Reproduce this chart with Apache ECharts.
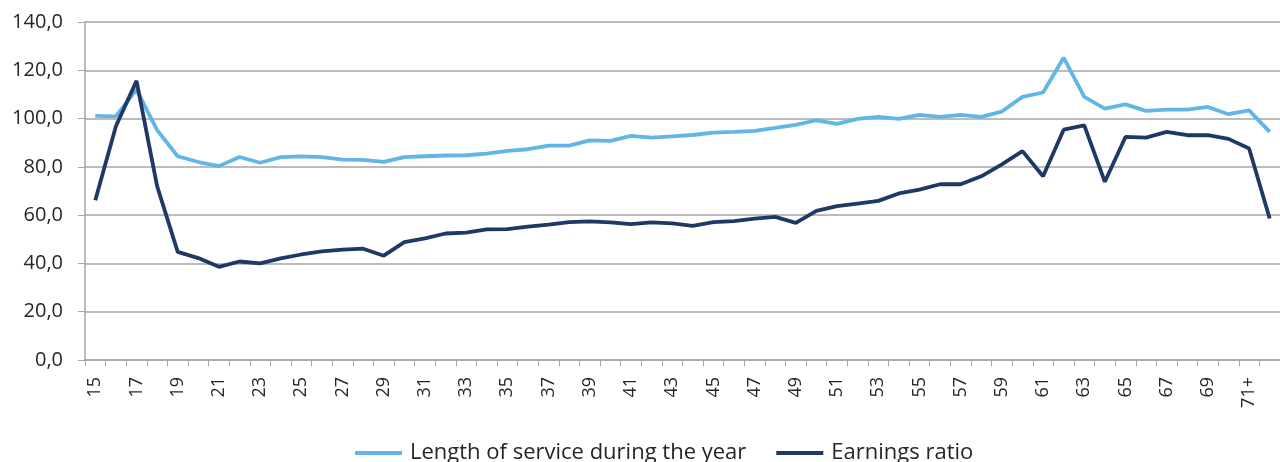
<!DOCTYPE html>
<html>
<head>
<meta charset="utf-8">
<script src="https://cdn.jsdelivr.net/npm/echarts@6/dist/echarts.min.js"></script>
<style>
  html, body { margin: 0; padding: 0; background: #fff; }
  #chart { width: 1280px; height: 462px; }
</style>
</head>
<body>
<div id="chart"></div>
<script>
// ages 15..70, then 71+ and one more unlabeled point at the end
const ages = [];
for (let a = 15; a <= 70; a++) ages.push(String(a));
ages.push('71+');
ages.push('');

const serviceLength = [101.1, 100.9, 112.0, 95.2, 84.4, 82.0, 80.3, 84.1, 81.7, 84.0,
  84.3, 84.0, 83.0, 82.9, 82.1, 84.0, 84.4, 84.7, 84.8, 85.5,
  86.6, 87.3, 88.8, 88.8, 91.0, 90.8, 92.8, 92.1, 92.6, 93.2,
  94.2, 94.5, 94.9, 96.1, 97.4, 99.3, 97.8, 99.9, 100.7, 99.9,
  101.5, 100.7, 101.5, 100.7, 102.9, 109.0, 110.8, 125.2, 109.0, 104.1,
  105.9, 103.2, 103.7, 103.7, 104.8, 101.8, 103.4, 94.5];

const earningsRatio = [66.2, 96.8, 115.6, 72.0, 44.8, 42.2, 38.6, 40.8, 40.0, 42.1,
  43.7, 45.0, 45.7, 46.1, 43.2, 48.8, 50.4, 52.4, 52.8, 54.1,
  54.2, 55.2, 56.1, 57.1, 57.4, 57.0, 56.3, 57.0, 56.6, 55.6,
  57.1, 57.5, 58.6, 59.3, 56.8, 61.8, 63.7, 64.8, 65.9, 69.0,
  70.6, 72.8, 72.8, 76.1, 81.0, 86.5, 76.1, 95.4, 97.2, 73.8,
  92.4, 92.1, 94.5, 93.1, 93.1, 91.6, 87.6, 58.6];

const seriesNames = ['Length of service during the year', 'Earnings ratio'];

const chart = echarts.init(document.getElementById('chart'));

const option = {
  animation: false,
  textStyle: { fontFamily: 'Open Sans' },
  grid: { left: 85, top: 22, width: 1199, height: 338 },
  legend: {
    left: 350,
    top: 437,
    itemWidth: 47,
    itemHeight: 4,
    itemGap: 30,
    icon: 'rect',
    textStyle: { color: '#262626', fontSize: 22, padding: [0, 0, 0, 3] },
    data: seriesNames,
  },
  xAxis: {
    type: 'category',
    data: ages,
    boundaryGap: true,
    axisLine: { lineStyle: { color: '#a6a6a6', width: 1.5 } },
    axisTick: { show: true, interval: 0, length: 6, lineStyle: { color: '#a6a6a6' } },
    axisLabel: {
      interval: 1,
      rotate: 90,
      margin: 17,
      color: '#262626',
      fontSize: 18,
    },
    splitLine: { show: false },
  },
  yAxis: {
    type: 'value',
    min: 0,
    max: 140,
    interval: 20,
    axisLine: { show: true, lineStyle: { color: '#a6a6a6', width: 1.5 } },
    axisTick: { show: true, length: 7, lineStyle: { color: '#a6a6a6' } },
    axisLabel: {
      margin: 22,
      color: '#262626',
      fontSize: 20,
      formatter: (v) => v.toFixed(1).replace('.', ','),
    },
    splitLine: { lineStyle: { color: '#a6a6a6', width: 1.5 } },
  },
  series: [
    {
      name: seriesNames[0],
      type: 'line',
      data: serviceLength,
      showSymbol: false,
      symbol: 'none',
      lineStyle: { color: '#62b5e5', width: 3.8 },
      itemStyle: { color: '#62b5e5' },
    },
    {
      name: seriesNames[1],
      type: 'line',
      data: earningsRatio,
      showSymbol: false,
      symbol: 'none',
      lineStyle: { color: '#1f3864', width: 3.8 },
      itemStyle: { color: '#1f3864' },
    },
  ],
};

chart.setOption(option);
</script>
</body>
</html>
